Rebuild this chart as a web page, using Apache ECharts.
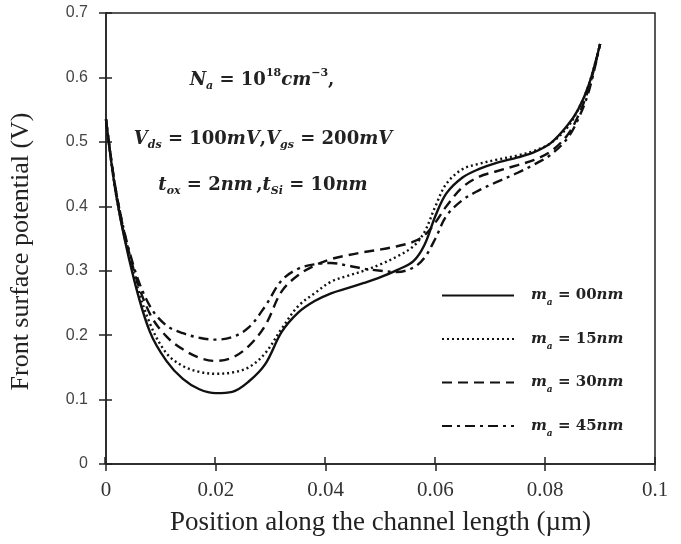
<!DOCTYPE html>
<html>
<head>
<meta charset="utf-8">
<script src="https://cdn.jsdelivr.net/npm/echarts@6/dist/echarts.min.js"></script>
<style>
    html, body { margin: 0; padding: 0; background: #fff; }
    #chart { width: 681px; height: 544px; }
</style>
</head>
<body>
<div id="chart"></div>
<script>
// position along the channel (um)
var positions = [0, 0.002, 0.005, 0.008, 0.011, 0.014, 0.017, 0.02, 0.023, 0.026, 0.029, 0.032, 0.035, 0.038,
    0.041, 0.044, 0.047, 0.05, 0.053, 0.056, 0.058, 0.06, 0.062, 0.065, 0.068, 0.071, 0.075, 0.078,
    0.081, 0.084, 0.086, 0.088, 0.09];

// front surface potential (V)
var pot00 = [0.535, 0.41, 0.29, 0.205, 0.16, 0.132, 0.116, 0.110, 0.112, 0.128, 0.155, 0.205, 0.235, 0.253,
    0.265, 0.273, 0.281, 0.290, 0.301, 0.315, 0.340, 0.385, 0.420, 0.445, 0.458, 0.467, 0.476, 0.484,
    0.498, 0.525, 0.55, 0.59, 0.652];
var pot15 = [0.535, 0.41, 0.297, 0.218, 0.172, 0.152, 0.143, 0.140, 0.142, 0.150, 0.172, 0.210, 0.245, 0.265,
    0.283, 0.292, 0.300, 0.310, 0.322, 0.338, 0.360, 0.400, 0.435, 0.458, 0.466, 0.472, 0.479, 0.486,
    0.498, 0.522, 0.55, 0.59, 0.652];
var pot30 = [0.535, 0.415, 0.303, 0.233, 0.198, 0.178, 0.165, 0.160, 0.165, 0.183, 0.215, 0.268, 0.293, 0.308,
    0.318, 0.324, 0.329, 0.333, 0.338, 0.345, 0.355, 0.375, 0.400, 0.430, 0.446, 0.454, 0.464, 0.472,
    0.485, 0.510, 0.54, 0.585, 0.652];
var pot45 = [0.535, 0.415, 0.308, 0.245, 0.215, 0.203, 0.196, 0.193, 0.197, 0.212, 0.245, 0.285, 0.303, 0.310,
    0.312, 0.308, 0.303, 0.300, 0.298, 0.305, 0.320, 0.350, 0.385, 0.410, 0.425, 0.437, 0.452, 0.465,
    0.480, 0.505, 0.535, 0.58, 0.652];

var seriesNames = ['00', '15', '30', '45'];
var seriesData = [pot00, pot15, pot30, pot45];
var lineTypes = ['solid', [2, 3], [10, 6], [10, 5, 3, 5]];

var serif = '"Liberation Serif", "Times New Roman", serif';
var mathFont = '"DejaVu Serif", serif';

function richSet(size) {
    var small = Math.round(size * 0.62);
    return {
        pad: { fontFamily: mathFont, fontSize: size, fontWeight: 'bold', fontStyle: 'italic', padding: [0, 0, 0, 12] },
        i: { fontFamily: mathFont, fontSize: size, fontWeight: 'bold', fontStyle: 'italic', lineHeight: 24 },
        r: { fontFamily: mathFont, fontSize: size, fontWeight: 'bold', lineHeight: 24 },
        sub: { fontFamily: mathFont, fontSize: small, fontWeight: 'bold', fontStyle: 'italic', lineHeight: 15, verticalAlign: 'bottom' },
        sup: { fontFamily: mathFont, fontSize: small, fontWeight: 'bold', lineHeight: 13, verticalAlign: 'top' }
    };
}

function makeData(ys) {
    var out = [];
    for (var i = 0; i < positions.length; i++) {
        out.push([positions[i], ys[i]]);
    }
    return out;
}

var series = [];
for (var k = 0; k < seriesData.length; k++) {
    series.push({
        name: seriesNames[k],
        type: 'line',
        xAxisIndex: 0,
        yAxisIndex: 0,
        smooth: 0.35,
        symbol: 'none',
        lineStyle: { color: '#111', width: 2.4, type: lineTypes[k] },
        itemStyle: { color: '#111' },
        data: makeData(seriesData[k])
    });
}

var myChart = echarts.init(document.getElementById('chart'));
var option = {
    animation: false,
    backgroundColor: '#fff',
    grid: [
        { left: 105, right: 26, top: 13, bottom: 80, show: true, borderColor: '#222', borderWidth: 1.5 },
        { left: 105, right: 26, top: 13, bottom: 80 }
    ],
    xAxis: [
        {
            type: 'value', gridIndex: 0, min: 0, max: 0.1, interval: 0.02,
            name: 'Position along the channel length (\u00b5m)',
            nameLocation: 'middle', nameGap: 45,
            nameTextStyle: { fontFamily: serif, fontSize: 27, color: '#222' },
            axisLine: { lineStyle: { color: '#222', width: 1.5 } },
            axisTick: { length: 7, lineStyle: { color: '#222', width: 1.5 } },
            axisLabel: { fontFamily: serif, fontSize: 21, color: '#333', margin: 16 },
            splitLine: { show: false }
        },
        {
            type: 'value', gridIndex: 1, min: 0, max: 0.1, interval: 0.02,
            axisLine: { show: false },
            axisTick: { inside: true, length: 7, lineStyle: { color: '#222', width: 1.5 } },
            axisLabel: { show: false },
            splitLine: { show: false }
        }
    ],
    yAxis: [
        {
            type: 'value', gridIndex: 0, min: 0, max: 0.7, interval: 0.1,
            name: 'Front surface potential (V)',
            nameLocation: 'middle', nameGap: 72,
            nameTextStyle: { fontFamily: serif, fontSize: 26, color: '#222', padding: [0, 26, 0, 0] },
            axisLine: { lineStyle: { color: '#222', width: 1.5 } },
            axisTick: { length: 7, lineStyle: { color: '#222', width: 1.5 } },
            axisLabel: { fontFamily: '"Liberation Sans", Arial, sans-serif', fontSize: 16, color: '#444', margin: 18 },
            splitLine: { show: false }
        },
        {
            type: 'value', gridIndex: 1, min: 0, max: 0.7, interval: 0.1,
            axisLine: { show: false },
            axisTick: { inside: true, length: 7, lineStyle: { color: '#222', width: 1.5 } },
            axisLabel: { show: false },
            splitLine: { show: false }
        }
    ],
    legend: {
        orient: 'vertical',
        left: 436,
        top: 283,
        itemWidth: 72,
        itemHeight: 14,
        itemGap: 24,
        data: seriesNames,
        itemStyle: { opacity: 0 },
        textStyle: { color: '#222', rich: richSet(15) },
        formatter: function (name) {
            return '{pad|m}{sub|a}{r| = ' + name + '}{i|nm}';
        }
    },
    graphic: [
        {
            type: 'text', x: 262, y: 80,
            style: {
                text: '{i|N}{sub|a}{r| = 10}{sup|18}{i|cm}{sup|\u22123}{r|,}',
                rich: richSet(18), fill: '#222', align: 'center', verticalAlign: 'middle'
            }
        },
        {
            type: 'text', x: 263, y: 139,
            style: {
                text: '{i|V}{sub|ds}{r| = 100}{i|mV}{r|,}{i|V}{sub|gs}{r| = 200}{i|mV}',
                rich: richSet(18), fill: '#222', align: 'center', verticalAlign: 'middle'
            }
        },
        {
            type: 'text', x: 263, y: 185,
            style: {
                text: '{i|t}{sub|ox}{r| = 2}{i|nm} {r|,}{i|t}{sub|Si}{r| = 10}{i|nm}',
                rich: richSet(18), fill: '#222', align: 'center', verticalAlign: 'middle'
            }
        }
    ],
    series: series
};
myChart.setOption(option);
</script>
</body>
</html>
